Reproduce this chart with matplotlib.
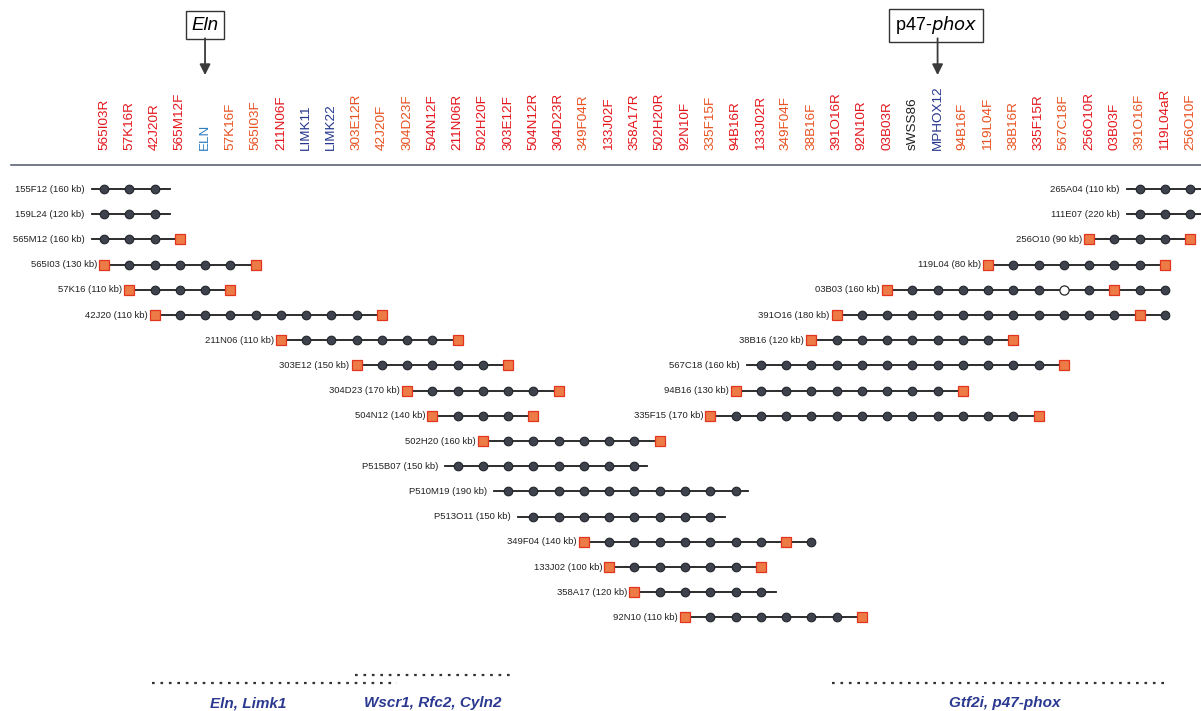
import matplotlib.pyplot as plt

plt.rcParams['font.family'] = ['Liberation Sans', 'DejaVu Sans']

# STS / marker names along the top, left to right
marker_names = ['565I03R', '57K16R', '42J20R', '565M12F', 'ELN', '57K16F', '565I03F',
                '211N06F', 'LIMK11', 'LIMK22', '303E12R', '42J20F', '304D23F', '504N12F',
                '211N06R', '502H20F', '303E12F', '504N12R', '304D23R', '349F04R', '133J02F',
                '358A17R', '502H20R', '92N10F', '335F15F', '94B16R', '133J02R', '349F04F',
                '38B16F', '391O16R', '92N10R', '03B03R', 'sWSS86', 'MPHOX12', '94B16F',
                '119L04F', '38B16R', '335F15R', '567C18F', '256O10R', '03B03F', '391O16F',
                '119L04aR', '256O10F']
# r = red end, o = orange end, b = blue gene, d = dark blue, k = black
marker_kind = ['r', 'r', 'r', 'r', 'b', 'o', 'o',
               'r', 'd', 'd', 'o', 'o', 'o', 'r',
               'r', 'r', 'r', 'r', 'r', 'o', 'r',
               'r', 'r', 'r', 'o', 'r', 'r', 'o',
               'o', 'r', 'r', 'r', 'k', 'd', 'o',
               'o', 'o', 'r', 'o', 'r', 'r', 'o',
               'r', 'o']

# clones: name, size (kb), row, first marker column, marker pattern, line span
clone_names = ['155F12', '159L24', '565M12', '565I03', '57K16', '42J20', '211N06', '303E12',
               '304D23', '504N12', '502H20', 'P515B07', 'P510M19', 'P513O11', '349F04',
               '133J02', '358A17', '92N10',
               '265A04', '111E07', '256O10', '119L04', '03B03', '391O16', '38B16', '567C18',
               '94B16', '335F15']
clone_kb = [160, 120, 160, 130, 110, 110, 110, 150, 170, 140, 160, 150, 190, 150, 140, 100, 120, 110,
            110, 220, 90, 80, 160, 180, 120, 160, 130, 170]
clone_row = list(range(18)) + list(range(10))
clone_first = [0, 0, 0, 0, 1, 2, 7, 10, 12, 13, 15, 14, 16, 17, 19, 20, 21, 23,
               41, 41, 39, 35, 31, 29, 28, 26, 25, 24]
# d = marker present, s = clone end marker, o = marker absent
clone_marks = ['ddd', 'ddd', 'ddds', 'sddddds', 'sddds', 'sdddddddds', 'sdddddds', 'sddddds',
               'sddddds', 'sddds', 'sdddddds', 'dddddddd', 'dddddddddd', 'dddddddd', 'sdddddddsd',
               'sddddds', 'sddddd', 'sdddddds',
               'ddd', 'ddd', 'sddds', 'sdddddds', 'sddddddodsdd', 'sdddddddddddsd', 'sddddddds',
               'dddddddddddds', 'sdddddddds', 'sdddddddddddds']
clone_span = [(-0.48, 2.6), (-0.48, 2.6), (-0.48, 3), (0, 6), (1, 5), (2, 11), (7, 14), (10, 16),
              (12, 18), (13, 17), (15, 22), (13.5, 21.5), (15.45, 25.5), (16.4, 24.6), (19, 28),
              (20, 26), (21, 26.6), (23, 30),
              (40.5, 43.5), (40.5, 43.5), (39, 43), (35, 42), (31, 42), (29, 42), (28, 36),
              (25.45, 38), (25, 34), (24, 37)]

genes_boxed = [('Eln', 4), ('p47-phox', 33)]
bottom_labels = [('Eln, Limk1', 5.7), ('Wscr1, Rfc2, Cyln2', 13.02), ('Gtf2i, p47-phox', 35.67)]
bottom_lines = [(1.9, 11.6, 19.6), (9.94, 16.27, 19.29), (28.82, 42.12, 19.6)]

colors = {'r': '#e3151b', 'o': '#e8501f', 'b': '#2d7dc2', 'd': '#25368c', 'k': '#222222'}

fig = plt.figure(figsize=(12.01, 7.11), dpi=100)
ax = fig.add_axes([0, 0, 1, 1])
ax.set_xlim(-104 / 25.26, (1201 - 104) / 25.26)
ax.set_ylim((711 - 189) / 25.2, -189 / 25.2)
ax.axis('off')

# column labels
for i, (name, kind) in enumerate(zip(marker_names, marker_kind)):
    ax.text(i, -1.55, name, rotation=90, ha='center', va='bottom',
            fontsize=9.7, color=colors[kind])
ax.plot([-3.7, 43.5], [-0.95, -0.95], color='#50566a', lw=1.1)

# gene arrows
for gene, col in genes_boxed:
    if gene == 'Eln':
        ax.text(col, -6.5, gene, ha='center', va='center', fontsize=13.5, style='italic',
                bbox=dict(boxstyle='square,pad=0.3', fc='white', ec='#333333', lw=1))
    else:
        ax.text(col - 0.06, -6.5, 'p47-$\\it{phox}$', ha='center', va='center', fontsize=13,
                bbox=dict(boxstyle='square,pad=0.3', fc='white', ec='#333333', lw=1))
    ax.annotate('', xy=(col, -4.52), xytext=(col, -5.98),
                arrowprops=dict(arrowstyle='-|>', color='#3a3a3a', lw=1.3,
                                mutation_scale=16, shrinkA=0, shrinkB=0))

# clones
for name, kb, row, first, marks, (lo, hi) in zip(clone_names, clone_kb, clone_row,
                                                 clone_first, clone_marks, clone_span):
    ax.plot([lo, hi], [row, row], color='#1c1c1c', lw=1.3, zorder=1)
    for j, m in enumerate(marks):
        c = first + j
        if m == 'd':
            ax.plot(c, row, 'o', ms=6.2, mfc='#3d424c', mec='#23262c', mew=0.8, zorder=2)
        elif m == 'o':
            ax.plot(c, row, 'o', ms=6.6, mfc='white', mec='#2a2a2a', mew=0.9, zorder=2)
        else:
            ax.plot(c, row, 's', ms=7.8, mfc='#ec7b45', mec='#e2341e', mew=0.9, zorder=3)
    ax.text(lo - 0.28, row, f'{name} ({kb} kb)', ha='right', va='center',
            fontsize=6.8, color='#222222')

# bottom gene regions
for x0, x1, y in bottom_lines:
    ax.plot([x0, x1], [y, y], color='#333333', lw=1.6, ls=(0, (1.2, 2.6)))
for text, x in bottom_labels:
    ax.text(x, 20.4, text, ha='center', va='center', fontsize=11, style='italic',
            weight='bold', color='#2b3990')

fig.savefig('out.png', dpi=100)
